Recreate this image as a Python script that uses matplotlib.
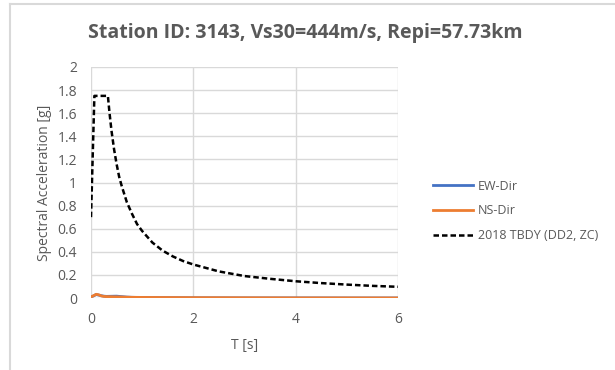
import matplotlib.pyplot as plt
from matplotlib.lines import Line2D

# record spectra
t_rec = [0.0, 0.05, 0.1, 0.15, 0.2, 0.25, 0.3, 0.4, 0.5, 0.6, 0.7, 0.8, 1.0, 1.5, 2.0, 3.0, 4.0, 5.0, 6.0]
ew = [0.010, 0.018, 0.030, 0.025, 0.020, 0.016, 0.014, 0.015, 0.016, 0.012, 0.008, 0.006, 0.004, 0.003, 0.002, 0.001, 0.001, 0.0005, 0.0005]
ns = [0.010, 0.020, 0.032, 0.028, 0.018, 0.014, 0.012, 0.011, 0.010, 0.009, 0.007, 0.006, 0.005, 0.004, 0.003, 0.002, 0.001, 0.001, 0.0005]

# design spectrum
t_tbdy = [0.0, 0.066, 0.1, 0.2, 0.33, 0.36, 0.4, 0.45, 0.5, 0.55, 0.6, 0.7, 0.8, 0.9, 1.0, 1.2, 1.4, 1.6, 1.8,
          2.0, 2.5, 3.0, 3.5, 4.0, 4.5, 5.0, 5.5, 6.0]
sa_tbdy = [0.70, 1.75, 1.75, 1.75, 1.75, 1.61, 1.45, 1.29, 1.16, 1.05, 0.97, 0.83, 0.73, 0.64, 0.58, 0.48, 0.41,
           0.36, 0.32, 0.29, 0.23, 0.19, 0.166, 0.145, 0.129, 0.116, 0.105, 0.097]

title = "Station ID: 3143, Vs30=444m/s, Repi=57.73km"
gray = "#595959"

plt.rcParams["font.family"] = ["Open Sans", "DejaVu Sans"]

fig = plt.figure(figsize=(6.15, 3.7), dpi=100)
ax = fig.add_axes([91 / 615, 1 - 298 / 370, 307 / 615, 231 / 370])

ax.plot(t_rec, ew, color="#4472C4", lw=2, label="EW-Dir")
ax.plot(t_rec, ns, color="#ED7D31", lw=2, label="NS-Dir")
ax.plot(t_tbdy, sa_tbdy, color="black", lw=1.8, ls=(0, (2.2, 1.2)), label="2018 TBDY (DD2, ZC)")

ax.set_xlim(0, 6)
ax.set_ylim(0, 2)
ax.set_xticks([0, 2, 4, 6])
ax.set_yticks([i * 0.2 for i in range(11)])
ax.set_yticklabels(["0", "0.2", "0.4", "0.6", "0.8", "1", "1.2", "1.4", "1.6", "1.8", "2"])
ax.grid(True, color="#d9d9d9", lw=1)
ax.set_axisbelow(True)
for s in ax.spines.values():
    s.set_visible(False)
ax.tick_params(length=0, colors=gray, labelsize=10)
ax.tick_params(axis="x", pad=10)
ax.tick_params(axis="y", pad=10)
ax.set_xlabel("T [s]", color=gray, fontsize=10, labelpad=8)
ax.set_ylabel("Spectral Acceleration [g]", color=gray, fontsize=10, labelpad=4)

fig.text(0.497, 1 - 33 / 370, title, ha="center", va="center", fontsize=14,
         fontweight="bold", color=gray)

leg = ax.legend(loc="center left", bbox_to_anchor=(1.078, 0.377), frameon=False,
                fontsize=9, handlelength=3.2, labelspacing=0.95, handletextpad=0.4)
for t in leg.get_texts():
    t.set_color(gray)

# chart frame
fig.add_artist(Line2D([10 / 615, 10 / 615], [0, 1 - 4 / 370], color="#d9d9d9", lw=1.5))
fig.add_artist(Line2D([10 / 615, 1], [1 - 4 / 370, 1 - 4 / 370], color="#d9d9d9", lw=1.5))

fig.savefig("out.png", dpi=100)
plt.close(fig)
